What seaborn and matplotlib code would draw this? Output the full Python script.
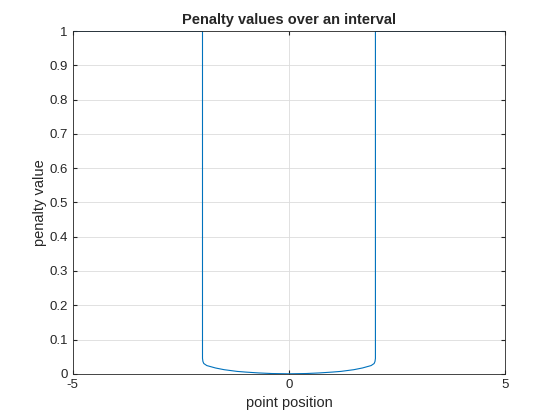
import matplotlib
matplotlib.use("Agg")
import matplotlib.pyplot as plt
import seaborn as sns
import pandas as pd

# values
x_vals = [-5, -2.0, -2.0, -1.99, -1.97, -1.9, -1.7, -1.5, -1.2, -1.0, -0.7, -0.4, 0,
          0.4, 0.7, 1.0, 1.2, 1.5, 1.7, 1.9, 1.97, 1.99, 2.0, 2.0, 5]
y_vals = [1, 1, 0.045, 0.036, 0.03, 0.024, 0.017, 0.012, 0.007, 0.005, 0.0025, 0.0008, 0,
          0.0008, 0.0025, 0.005, 0.007, 0.012, 0.017, 0.024, 0.03, 0.036, 0.045, 1, 1]
x_ticks = [-5, 0, 5]
y_ticks = [0, 0.1, 0.2, 0.3, 0.4, 0.5, 0.6, 0.7, 0.8, 0.9, 1]

sns.set_style("white")
plt.rcParams['font.family'] = ['Liberation Sans', 'DejaVu Sans']

df = pd.DataFrame({"x": x_vals, "y": y_vals})
fig = plt.figure(figsize=(5.6, 4.2), dpi=100)
ax = fig.add_axes([0.130, 0.110, 0.772, 0.816])
sns.lineplot(data=df, x="x", y="y", ax=ax, color="#0072BD", linewidth=0.8,
             sort=False, estimator=None)

ax.set_xlim(-5, 5)
ax.set_ylim(0, 1)
ax.set_xticks(x_ticks)
ax.set_xticklabels([str(t) for t in x_ticks])
ax.set_yticks(y_ticks)
ax.set_yticklabels([f"{t:g}" for t in y_ticks])
ax.grid(True, color="#dcdcdc", linewidth=0.6)
ax.tick_params(direction="in", length=3, labelsize=9.5, colors="#262626",
               top=True, right=True, bottom=True, left=True)
for s in ax.spines.values():
    s.set_color("#262626")
    s.set_linewidth(0.6)
ax.set_xlabel("point position", fontsize=10.5, color="#262626")
ax.set_ylabel("penalty value", fontsize=10.5, color="#262626", labelpad=2)
ax.set_title("Penalty values over an interval", fontsize=10.5, fontweight="bold", pad=5)

fig.savefig("out.png", dpi=100)
